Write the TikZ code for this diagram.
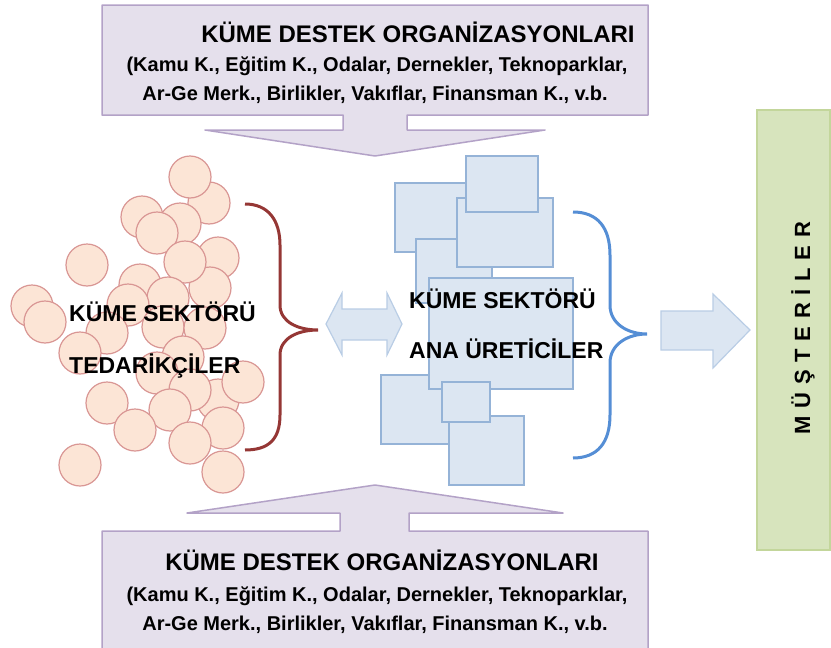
\documentclass[tikz,border=0pt]{standalone}
\usepackage{fontspec}
\setmainfont{Liberation Sans}
\newfontfamily\spacedfont[LetterSpace=35]{Liberation Sans}
\definecolor{circfill}{RGB}{252,229,214}
\definecolor{circline}{RGB}{217,150,148}
\definecolor{sqfill}{RGB}{220,230,242}
\definecolor{sqline}{RGB}{149,179,215}
\definecolor{arrline}{RGB}{185,205,229}
\definecolor{purpfill}{RGB}{229,224,236}
\definecolor{purpline}{RGB}{179,162,199}
\definecolor{grnfill}{RGB}{215,228,189}
\definecolor{grnline}{RGB}{195,214,155}
\definecolor{lbracecol}{RGB}{149,55,53}
\definecolor{rbracecol}{RGB}{85,142,213}
\begin{document}
\begin{tikzpicture}[x=1pt, y=-1pt,
  circ/.style={circle, draw=circline, fill=circfill, line width=1.2pt, minimum size=42pt, inner sep=0pt},
  sq/.style={draw=sqline, fill=sqfill, line width=1.2pt, inner sep=0pt},
  callout/.style={draw=purpline, fill=purpfill, line width=1.5pt, line join=round},
  blockarr/.style={draw=arrline, fill=sqfill, line width=1.2pt},
  headtxt/.style={font=\fontsize{24}{28}\selectfont\bfseries, inner sep=0pt},
  subtxt/.style={font=\fontsize{20}{24}\selectfont\bfseries, inner sep=0pt},
  sectxt/.style={font=\fontsize{23}{27}\selectfont\bfseries, inner sep=0pt, anchor=base west}]
\useasboundingbox (0,0) rectangle (831,648);
% destek kutulari
\draw[callout] (102,5) -- (648,5) -- (648,115) -- (407,115) -- (407,130) -- (545,130) -- (375,156)
  -- (205,130) -- (343,130) -- (343,115) -- (102,115) -- cycle;
\draw[callout] (102,652) -- (102,531) -- (340,531) -- (340,513) -- (187,513) -- (375,485)
  -- (563,513) -- (409,513) -- (409,531) -- (648,531) -- (648,652);
\node[headtxt, anchor=base] (topT1) at (418,42) {KÜME DESTEK ORGANİZASYONLARI};
\node[subtxt, anchor=base] (topT2) at (377,71) {(Kamu K., Eğitim K., Odalar, Dernekler, Teknoparklar,};
\node[subtxt, anchor=base] (topT3) at (375,100) {Ar-Ge Merk., Birlikler, Vakıflar, Finansman K., v.b.};
\node[headtxt, anchor=base] (botT1) at (382,570) {KÜME DESTEK ORGANİZASYONLARI};
\node[subtxt, anchor=base] (botT2) at (377,601) {(Kamu K., Eğitim K., Odalar, Dernekler, Teknoparklar,};
\node[subtxt, anchor=base] (botT3) at (375,630) {Ar-Ge Merk., Birlikler, Vakıflar, Finansman K., v.b.};
% tedarikciler
\node[circ] (c1) at (209,203){};
\node[circ] (c2) at (190,177){};
\node[circ] (c3) at (142,217){};
\node[circ] (c4) at (180,224){};
\node[circ] (c5) at (157,233){};
\node[circ] (c6) at (87,265){};
\node[circ] (c7) at (218,258){};
\node[circ] (c8) at (210,288){};
\node[circ] (c9) at (185,262){};
\node[circ] (c10) at (140,285){};
\node[circ] (c11) at (168,298){};
\node[circ] (c12) at (32,306){};
\node[circ] (c13) at (45,322){};
\node[circ] (c14) at (128,305){};
\node[circ] (c15) at (107,333){};
\node[circ] (c16) at (163,327){};
\node[circ] (c17) at (205,328){};
\node[circ] (c18) at (80,353){};
\node[circ] (c19) at (183,357){};
\node[circ] (c20) at (157,373){};
\node[circ] (c21) at (218,400){};
\node[circ] (c22) at (243,382){};
\node[circ] (c23) at (190,390){};
\node[circ] (c24) at (107,403){};
\node[circ] (c25) at (170,410){};
\node[circ] (c26) at (135,430){};
\node[circ] (c27) at (223,428){};
\node[circ] (c28) at (190,443){};
\node[circ] (c29) at (80,465){};
\node[circ] (c30) at (223,472){};
\node[sectxt] (supT1) at (69,321) {KÜME SEKTÖRÜ};
\node[sectxt] (supT2) at (69,373) {TEDARİKÇİLER};
\draw[lbracecol, line width=3pt] (245,204) .. controls (268,204) and (280,220) .. (280,245) -- (280,305)
  .. controls (280,322) and (298,330) .. (318,330) .. controls (298,330) and (280,338) .. (280,355)
  -- (280,415) .. controls (280,440) and (268,450) .. (245,450);
% ana ureticiler
\node[sq, minimum width=72pt, minimum height=69pt] (sqA) at (431,217.5){};
\node[sq, minimum width=76pt, minimum height=64pt] (sqD) at (454,271){};
\node[sq, minimum width=96pt, minimum height=69pt] (sqC) at (505,232.5){};
\node[sq, minimum width=72pt, minimum height=56pt] (sqB) at (502,184){};
\node[sq, minimum width=71pt, minimum height=69pt] (sqF) at (416.5,409.5){};
\node[sq, minimum width=144pt, minimum height=111pt] (sqE) at (501,333.5){};
\node[sq, minimum width=75pt, minimum height=69pt] (sqH) at (486.5,450.5){};
\node[sq, minimum width=48pt, minimum height=40pt] (sqG) at (466,402){};
\node[sectxt] (prodT1) at (409,308) {KÜME SEKTÖRÜ};
\node[sectxt] (prodT2) at (409,358) {ANA ÜRETİCİLER};
\draw[rbracecol, line width=3pt] (573,212) .. controls (598,212) and (610,228) .. (610,255) -- (610,305)
  .. controls (610,324) and (628,334) .. (647,334) .. controls (628,334) and (610,344) .. (610,363)
  -- (610,415) .. controls (610,442) and (598,458) .. (573,458);
% oklar
\draw[blockarr] (326,324) -- (342,293) -- (342,309) -- (387,309) -- (387,293) -- (402,324)
  -- (387,355) -- (387,340) -- (342,340) -- (342,355) -- cycle;
\draw[blockarr] (661,311) -- (713,311) -- (713,294) -- (750,330) -- (713,368) -- (713,350) -- (661,350) -- cycle;
% musteriler
\draw[draw=grnline, fill=grnfill, line width=1.5pt] (757,110) rectangle (830,550);
\node[font=\spacedfont\fontsize{22}{26}\selectfont\bfseries, rotate=90, inner sep=0pt] (custT) at (803,328) {MÜŞTERİLER};
\end{tikzpicture}
\end{document}
